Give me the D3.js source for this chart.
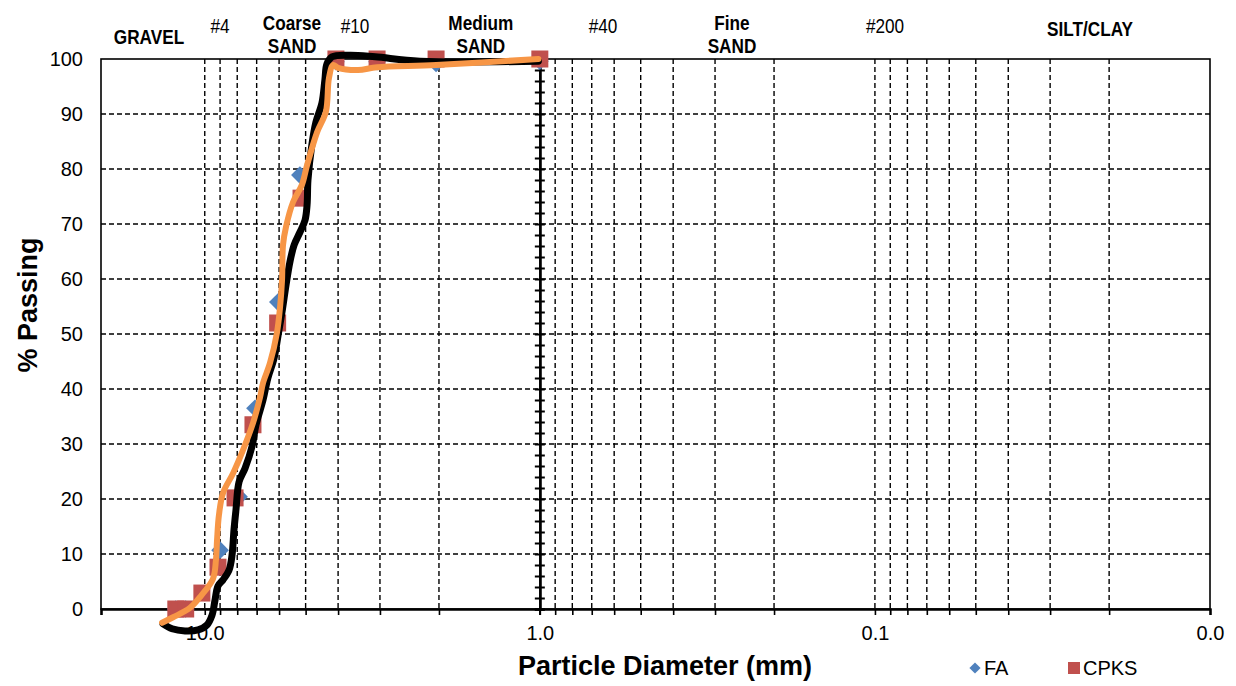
<!DOCTYPE html>
<html>
<head>
<meta charset="utf-8">
<script src="https://cdn.jsdelivr.net/npm/d3@7"></script>
<style>
  body { margin: 0; background: #fff; }
  svg { display: block; }
  .grid-line { stroke: #000; stroke-width: 1.4; stroke-dasharray: 5 3; }
  .tick-lbl { font-family: "Liberation Sans", Arial, sans-serif; font-size: 20px; fill: #000; }
  .title { font-family: "Liberation Sans", Arial, sans-serif; font-size: 27px; font-weight: bold; fill: #000; }
  .zone { font-family: "Liberation Sans Narrow", "Arial Narrow", "Liberation Sans", sans-serif; font-size: 20px; fill: #000; }
</style>
</head>
<body>
<div class="module-graph"></div>
<script>
"use strict"

// marker data (sieve size mm, % passing)
const faSize = [12.2, 11.4, 9.0, 7.9, 7.08, 6.05, 5.2, 4.06, 3.06, 2.04, 1.0];
const faPass = [0, 0, 10.7, 20.4, 36.5, 55.8, 78.9, 99.5, 99.5, 99.2, 99.6];
const cpksSize = [12.2, 11.4, 10.2, 9.13, 8.12, 7.18, 6.06, 5.16, 4.06, 3.06, 2.04, 1.0];
const cpksPass = [0, 0, 2.9, 7.6, 20.2, 33.5, 52, 74.7, 100, 100, 100, 100];

// black curve
const blackSize = [13.32, 12.52, 11.45, 10.47, 9.85, 9.51, 9.32, 9.13, 8.82, 8.46, 8.29, 8.18, 8.07, 7.90,
    7.58, 7.23, 7.03, 6.70, 6.48, 6.21, 6.04, 5.88, 5.72, 5.57, 5.41, 5.20, 5.02, 4.95, 4.92, 4.79,
    4.66, 4.47, 4.38, 4.32, 4.17, 3.69, 3.10, 2.28, 1.01];
const blackPass = [-2.7, -3.6, -4.0, -3.8, -2.9, -1.1, 1.6, 4.2, 5.3, 7.1, 9.8, 14.4, 18.0, 23.1,
    25.6, 29.5, 33.5, 38.0, 42.0, 45.6, 49.8, 54.0, 58.9, 63.1, 66.2, 68.5, 70.7, 73.5, 78.0, 84.4,
    88.5, 92.0, 96.2, 99.1, 100.4, 100.7, 100.4, 99.6, 99.6];

// orange curve
const orangeSize = [13.41, 12.43, 11.07, 10.26, 9.45, 9.26, 9.19, 9.07, 8.82, 8.23, 7.69, 7.18, 6.84,
    6.70, 6.39, 6.09, 5.96, 5.88, 5.84, 5.72, 5.45, 5.13, 4.95, 4.62, 4.35, 4.26, 4.14, 4.00, 3.49,
    3.06, 2.04, 1.01];
const orangePass = [-2.5, -1.5, 0.2, 2.4, 5.5, 8.9, 12.5, 17.1, 21.1, 24.7, 28.9, 33.8, 38.5,
    41.1, 44.7, 50.2, 54.9, 59.8, 66.2, 69.5, 74.0, 77.1, 80.7, 86.7, 90.4, 96.5, 98.9, 98.4, 98.0,
    98.5, 98.9, 100];

const xTickValues = [10, 1, 0.1, 0.01];
const xTickLabels = ["10.0", "1.0", "0.1", "0.0"];
const yTickValues = [0, 10, 20, 30, 40, 50, 60, 70, 80, 90, 100];

const zoneText = [["GRAVEL"], ["#4"], ["Coarse", "SAND"], ["#10"], ["Medium", "SAND"], ["#40"],
    ["Fine", "SAND"], ["#200"], ["SILT/CLAY"]];
const zoneAt = [14.67, 9.0, 5.49, 3.56, 1.50, 0.648, 0.267, 0.0933, 0.0228];
const zoneBold = [true, false, true, false, true, false, true, false, true];

const legendNames = ["FA", "CPKS"];

let width = 1236,
    height = 686;
const pLeft = 101, pRight = 1210, pTop = 59, pBottom = 609;

const svg = d3.select("div.module-graph").append("svg")
    .attr("width", width)
    .attr("height", height);

const x = d3.scaleLog().domain([20.4, 0.01]).range([pLeft, pRight]);
const y = d3.scaleLinear().domain([0, 100]).range([pBottom, pTop]);

// grid
const minorX = x.ticks().filter(v => v !== 1 && x(v) > pLeft + 3 && x(v) < pRight - 3);
svg.append("g").selectAll("line").data(minorX).join("line")
    .attr("class", "grid-line")
    .attr("x1", d => x(d)).attr("x2", d => x(d))
    .attr("y1", pTop).attr("y2", pBottom);
svg.append("g").selectAll("line").data(yTickValues.filter(v => v > 0 && v < 100)).join("line")
    .attr("class", "grid-line")
    .attr("x1", pLeft).attr("x2", pRight)
    .attr("y1", d => y(d)).attr("y2", d => y(d));

// frame
svg.append("rect")
    .attr("x", pLeft).attr("y", pTop)
    .attr("width", pRight - pLeft).attr("height", pBottom - pTop)
    .attr("fill", "none").attr("stroke", "#000").attr("stroke-width", 1.6);

// x axis ticks
const xAxis = d3.axisBottom(x)
    .tickValues([20.4].concat(x.ticks().filter(v => x(v) > pLeft + 3)))
    .tickSize(6)
    .tickFormat("");
const gx = svg.append("g")
    .attr("transform", "translate(0," + pBottom + ")")
    .call(xAxis);
gx.select(".domain").attr("stroke-width", 2.4);
gx.selectAll(".tick line").attr("stroke-width", 1.6);

const gxl = svg.append("g")
    .attr("transform", "translate(0," + pBottom + ")")
    .call(d3.axisBottom(x).tickValues(xTickValues).tickSize(0).tickPadding(12)
        .tickFormat((d, i) => xTickLabels[i]));
gxl.select(".domain").remove();
gxl.selectAll("text").attr("class", "tick-lbl").attr("font-size", null).attr("font-family", null)
    .attr("dy", "0.95em");

// y labels on the left
const gyl = svg.append("g")
    .attr("transform", "translate(" + pLeft + ",0)")
    .call(d3.axisLeft(y).tickValues(yTickValues).tickSize(0).tickPadding(18));
gyl.select(".domain").remove();
gyl.selectAll("text").attr("class", "tick-lbl").attr("font-size", null).attr("font-family", null);

// crossing axis at 1.0 mm
const minorY = d3.range(0, 101, 2);
[d3.axisLeft, d3.axisRight].forEach(ax => {
    const g = svg.append("g")
        .attr("transform", "translate(" + x(1) + ",0)")
        .call(ax(y).tickValues(minorY).tickSize(5).tickFormat(""));
    g.select(".domain").attr("stroke-width", 2.4);
    g.selectAll(".tick line").attr("stroke-width", 2);
});
svg.append("line")
    .attr("x1", x(1)).attr("x2", x(1))
    .attr("y1", pBottom).attr("y2", pBottom + 6)
    .attr("stroke", "#000").attr("stroke-width", 1.6);

// markers
const diamond = d3.symbol().type(d3.symbolDiamond2).size(200);
svg.append("g").selectAll("path").data(faSize).join("path")
    .attr("d", diamond)
    .attr("transform", (d, i) => "translate(" + x(d) + "," + y(faPass[i]) + ")")
    .attr("fill", "#4F81BD");
const sq = 17;
svg.append("g").selectAll("rect").data(cpksSize).join("rect")
    .attr("x", d => x(d) - sq / 2)
    .attr("y", (d, i) => y(cpksPass[i]) - sq / 2)
    .attr("width", sq).attr("height", sq)
    .attr("fill", "#C0504D");

// curves
const line = d3.line()
    .x(d => x(d[0]))
    .y(d => y(d[1]))
    .curve(d3.curveCatmullRom.alpha(0.5));
svg.append("path")
    .attr("d", line(d3.zip(blackSize, blackPass)))
    .attr("fill", "none").attr("stroke", "#000").attr("stroke-width", 7)
    .attr("stroke-linejoin", "round").attr("stroke-linecap", "round");
svg.append("path")
    .attr("d", line(d3.zip(orangeSize, orangePass)))
    .attr("fill", "none").attr("stroke", "#F79646").attr("stroke-width", 6)
    .attr("stroke-linejoin", "round").attr("stroke-linecap", "round");

// zone labels on top (squeezed to look like a narrow face)
zoneText.forEach((lines, i) => {
    const t = svg.append("text")
        .attr("class", "zone")
        .attr("text-anchor", "middle")
        .attr("transform", "translate(" + x(zoneAt[i]) + ",0) scale(0.86,1)")
        .attr("font-weight", zoneBold[i] ? "bold" : "normal");
    let base;
    if (lines.length === 2) base = 30;
    else if (zoneBold[i]) base = lines[0] === "GRAVEL" ? 44 : 36;
    else base = 33;
    lines.forEach((s, k) => {
        t.append("tspan")
            .attr("x", 0)
            .attr("y", base + k * 23)
            .text(s);
    });
});

// axis titles
svg.append("text")
    .attr("class", "title")
    .attr("text-anchor", "middle")
    .attr("x", 665).attr("y", 675)
    .text("Particle Diameter (mm)");
svg.append("text")
    .attr("class", "title")
    .attr("text-anchor", "middle")
    .attr("transform", "translate(37,305) rotate(-90)")
    .text("% Passing");

// legend
const lg = svg.append("g").attr("transform", "translate(975,668)");
lg.append("path").attr("d", d3.symbol().type(d3.symbolDiamond2).size(80)).attr("fill", "#4F81BD");
lg.append("text").attr("class", "tick-lbl").attr("x", 9).attr("y", 7).attr("font-size", 19).text(legendNames[0]);
lg.append("rect").attr("x", 93).attr("y", -6).attr("width", 12).attr("height", 12).attr("fill", "#C0504D");
lg.append("text").attr("class", "tick-lbl").attr("x", 108).attr("y", 7).attr("font-size", 19).text(legendNames[1]);
</script>
</body>
</html>
